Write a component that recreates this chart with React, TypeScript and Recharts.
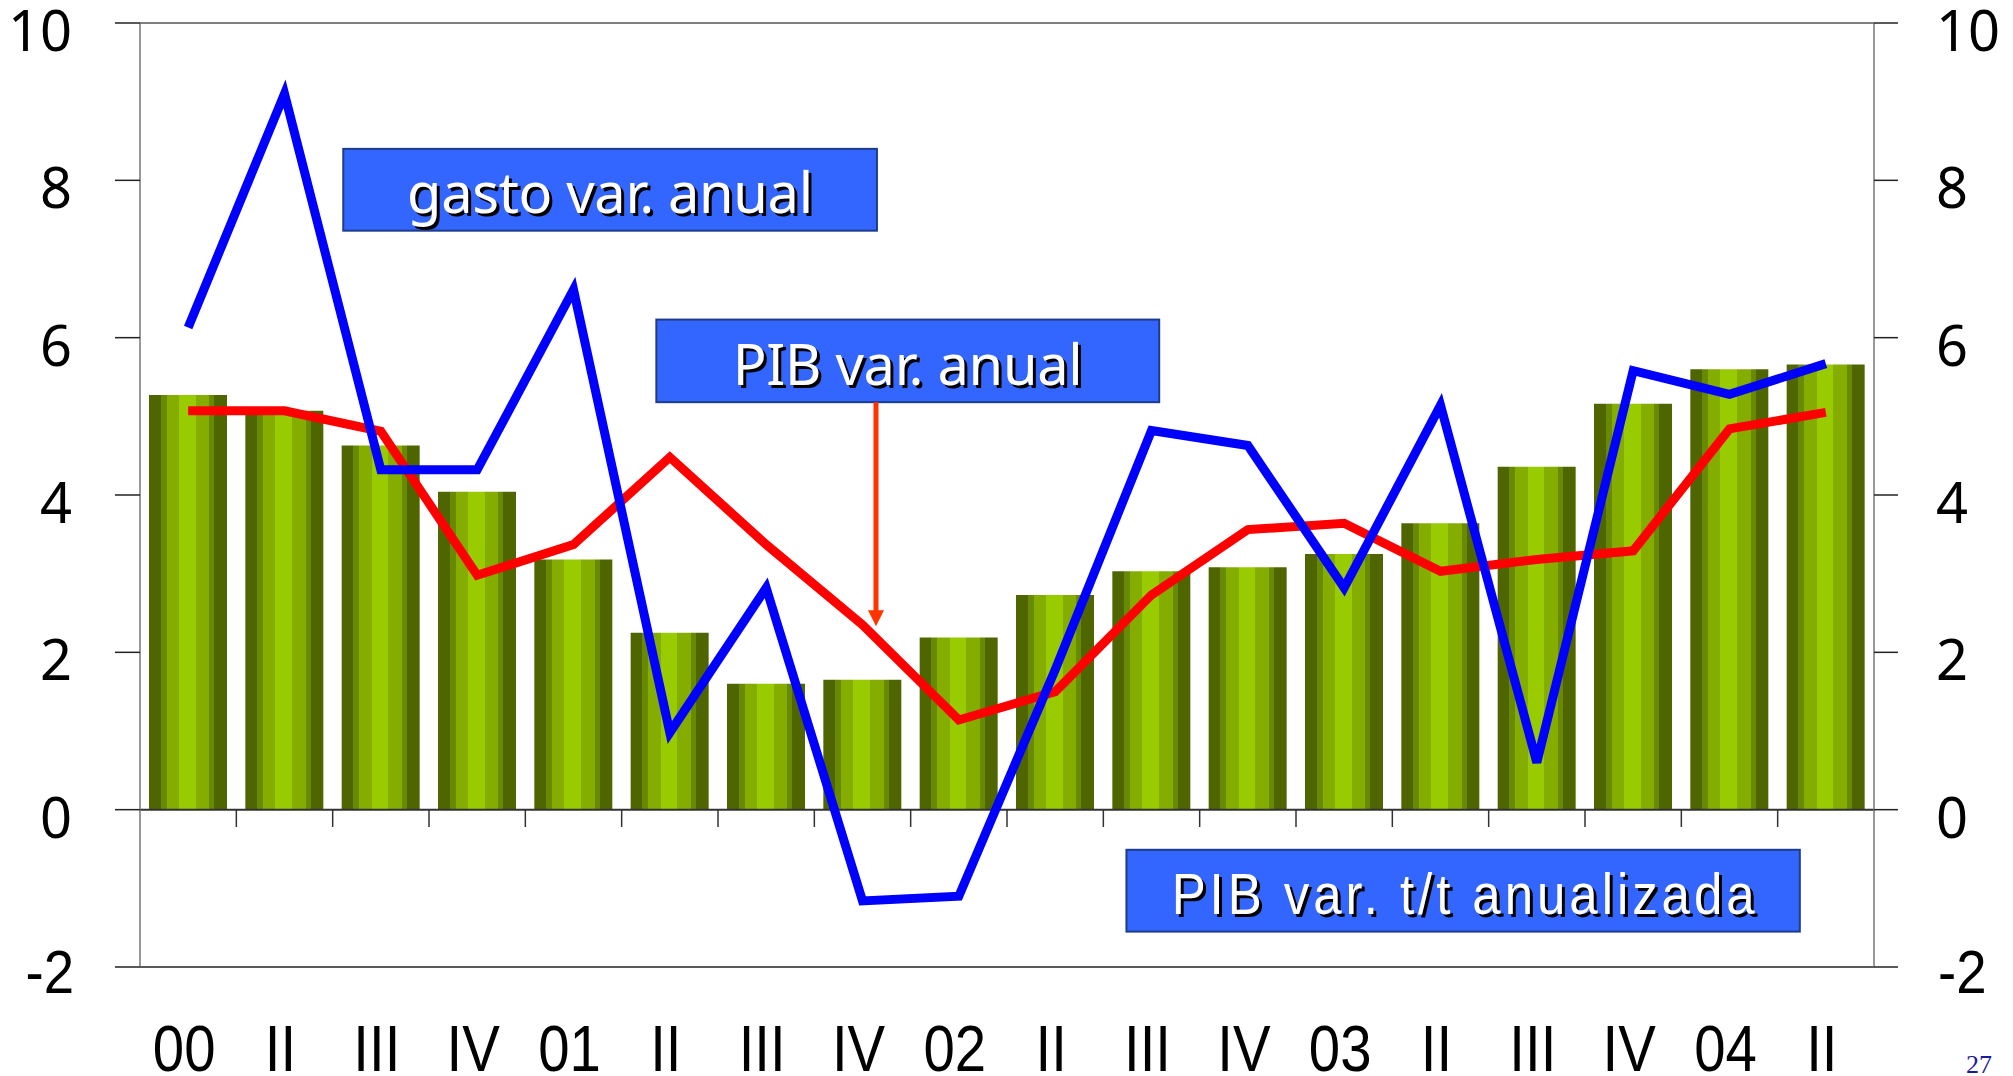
import React from 'react';
import { ComposedChart, Bar, Line, XAxis, YAxis, ReferenceLine, ReferenceArea } from 'recharts';

const quarters = ['00', 'II', 'III', 'IV', '01', 'II', 'III', 'IV', '02', 'II', 'III', 'IV', '03', 'II', 'III', 'IV', '04', 'II'];
// PIB var. t/t anualizada (bars)
const pibTt = [5.27, 5.07, 4.63, 4.04, 3.18, 2.25, 1.6, 1.65, 2.19, 2.73, 3.03, 3.08, 3.25, 3.64, 4.36, 5.16, 5.6, 5.66];
// PIB var. anual (red)
const pibAnual = [5.07, 5.07, 4.81, 2.98, 3.37, 4.48, 3.37, 2.35, 1.14, 1.5, 2.73, 3.56, 3.64, 3.03, 3.18, 3.29, 4.84, 5.05];
// gasto var. anual (blue)
const gastoAnual = [6.13, 9.1, 4.32, 4.32, 6.61, 0.98, 2.82, -1.16, -1.1, 1.78, 4.82, 4.63, 2.82, 5.14, 0.6, 5.58, 5.28, 5.67];
const yTicks = [-2, 0, 2, 4, 6, 8, 10];

const data = quarters.map((q, i) => ({ idx: i, pos: i + 0.5, q, tt: pibTt[i], pib: pibAnual[i], gasto: gastoAnual[i] }));
const boundaries = quarters.slice(1).map((_, i) => i + 1);

const SANS = "'Noto Sans', 'Open Sans', sans-serif";
const NARROW = "'Liberation Sans', Arial, sans-serif";
const NARROW_SX = 0.88;

const NarrowText = ({ x, y, size, anchor, fill, children }: any) => (
  <g transform={`translate(${x},${y}) scale(${NARROW_SX},1)`}>
    <text x={0} y={0} textAnchor={anchor} fontFamily={NARROW} fontSize={size} fill={fill}>{children}</text>
  </g>
);

const LeftTick = ({ x, y, payload }: any) =>
  payload.value < 0 ? (
    <NarrowText x={x + 2} y={y + 26} size={62} anchor="end" fill="#000">{payload.value}</NarrowText>
  ) : (
    <text x={x} y={y} dy={28} textAnchor="end" fontFamily={SANS} fontSize={56} fill="#000">
      {payload.value}
    </text>
  );

const RightTick = ({ x, y, payload }: any) =>
  payload.value < 0 ? (
    <NarrowText x={x + 2} y={y + 26} size={62} anchor="start" fill="#000">{payload.value}</NarrowText>
  ) : (
    <text x={x} y={y} dy={28} textAnchor="start" fontFamily={SANS} fontSize={56} fill="#000">
      {payload.value}
    </text>
  );

const QuarterTick = ({ x, y, payload }: any) => (
  <NarrowText x={x - 4} y={y + 104} size={64} anchor="middle" fill="#000">{quarters[payload.value]}</NarrowText>
);

const NoteBox = (props: any) => {
  const { x, y, width, height, text, font, fontSize, textWidth, sx = 1 } = props;
  const cx = x + width / 2;
  const by = y + height * 0.79;
  const line = (dx: number, fill: string) => (
    <g transform={`translate(${cx + dx},${by + dx}) scale(${sx},1)`}>
      <text x={0} y={0} textAnchor="middle" fontFamily={font} fontSize={fontSize} fill={fill}
        textLength={textWidth / sx} lengthAdjust="spacing">{text}</text>
    </g>
  );
  return (
    <g>
      <rect x={x} y={y} width={width} height={height} fill="#3366FF" stroke="#1E3C8C" strokeWidth={2} />
      {line(3, '#000')}
      {line(0, '#fff')}
    </g>
  );
};

const Arrow = (props: any) => {
  const { x1, y1, x2, y2 } = props;
  return (
    <g>
      <line x1={x1} y1={y1} x2={x2} y2={y2 - 14} stroke="#FF3300" strokeWidth={5} />
      <polygon points={`${x2 - 8},${y2 - 16} ${x2 + 8},${y2 - 16} ${x2},${y2}`} fill="#FF3300" />
    </g>
  );
};

export default function App() {
  return (
    <div style={{ position: 'absolute', left: 0, top: 0, width: 2013, height: 1076, overflow: 'hidden', background: '#fff' }}>
      <ComposedChart width={2013} height={1076} data={data} margin={{ top: 23, right: 0, bottom: 0, left: 0 }}>
        <defs>
          <linearGradient id="barStripes" x1="0" y1="0" x2="1" y2="0">
            <stop offset="0%" stopColor="#4F6600" />
            <stop offset="15%" stopColor="#4F6600" />
            <stop offset="15%" stopColor="#688A00" />
            <stop offset="22.7%" stopColor="#688A00" />
            <stop offset="22.7%" stopColor="#85AD00" />
            <stop offset="38.6%" stopColor="#85AD00" />
            <stop offset="38.6%" stopColor="#99CC00" />
            <stop offset="60%" stopColor="#99CC00" />
            <stop offset="60%" stopColor="#85AD00" />
            <stop offset="77.3%" stopColor="#85AD00" />
            <stop offset="77.3%" stopColor="#688A00" />
            <stop offset="83.7%" stopColor="#688A00" />
            <stop offset="83.7%" stopColor="#4F6600" />
            <stop offset="100%" stopColor="#4F6600" />
          </linearGradient>
        </defs>
        <XAxis dataKey="idx" type="category" height={109} tickLine={false} tickSize={0} tickMargin={0}
          axisLine={{ stroke: '#222', strokeWidth: 1.5 }} tick={<QuarterTick />} interval={0} />
        <XAxis xAxisId="n" dataKey="pos" type="number" domain={[0, 18]} allowDataOverflow hide />
        <YAxis yAxisId="left" width={140} domain={[-2, 10]} ticks={yTicks} allowDataOverflow
          tickSize={25} tickMargin={43} tick={<LeftTick />}
          axisLine={{ stroke: '#777', strokeWidth: 1.5 }} tickLine={{ stroke: '#222', strokeWidth: 1.5 }} />
        <YAxis yAxisId="right" orientation="right" width={139} domain={[-2, 10]} ticks={yTicks} allowDataOverflow
          tickSize={24} tickMargin={38} tick={<RightTick />}
          axisLine={{ stroke: '#777', strokeWidth: 1.5 }} tickLine={{ stroke: '#222', strokeWidth: 1.5 }} />
        <ReferenceLine yAxisId="left" y={10} stroke="#555" strokeWidth={1.5} />
        <Bar yAxisId="left" dataKey="tt" barSize={78} fill="url(#barStripes)" isAnimationActive={false} />
        <ReferenceLine yAxisId="left" y={0} stroke="#333" strokeWidth={2} />
        {boundaries.map((b) => (
          <ReferenceLine key={b} xAxisId="n" yAxisId="left" segment={[{ x: b, y: 0 }, { x: b, y: -0.22 }]}
            stroke="#333" strokeWidth={1.5} ifOverflow="visible" />
        ))}
        <Line yAxisId="left" dataKey="pib" stroke="#FF0000" strokeWidth={9} dot={false} activeDot={false}
          strokeLinejoin="miter" isAnimationActive={false} />
        <Line yAxisId="left" dataKey="gasto" stroke="#0000FF" strokeWidth={9} dot={false} activeDot={false}
          strokeLinejoin="miter" isAnimationActive={false} />
        <ReferenceArea xAxisId="n" yAxisId="left" x1={2.11} x2={7.65} y1={7.36} y2={8.4} ifOverflow="visible"
          shape={(p: any) => <NoteBox {...p} text="gasto var. anual" font={SANS} fontSize={56} textWidth={406} />} />
        <ReferenceArea xAxisId="n" yAxisId="left" x1={5.36} x2={10.58} y1={5.18} y2={6.23} ifOverflow="visible"
          shape={(p: any) => <NoteBox {...p} text="PIB var. anual" font={SANS} fontSize={56} textWidth={350} />} />
        <ReferenceLine xAxisId="n" yAxisId="left" segment={[{ x: 7.64, y: 5.18 }, { x: 7.64, y: 2.33 }]}
          ifOverflow="visible" shape={(p: any) => <Arrow {...p} />} />
        <ReferenceArea xAxisId="n" yAxisId="left" x1={10.24} x2={17.23} y1={-1.55} y2={-0.51} ifOverflow="visible"
          shape={(p: any) => <NoteBox {...p} text="PIB var. t/t anualizada" font={NARROW} fontSize={58} textWidth={583} sx={NARROW_SX} />} />
      </ComposedChart>
      <div style={{ position: 'absolute', left: 1966, top: 1050, fontFamily: "'Liberation Serif', serif", fontSize: 26, color: '#1A1AA0' }}>
        27
      </div>
    </div>
  );
}
